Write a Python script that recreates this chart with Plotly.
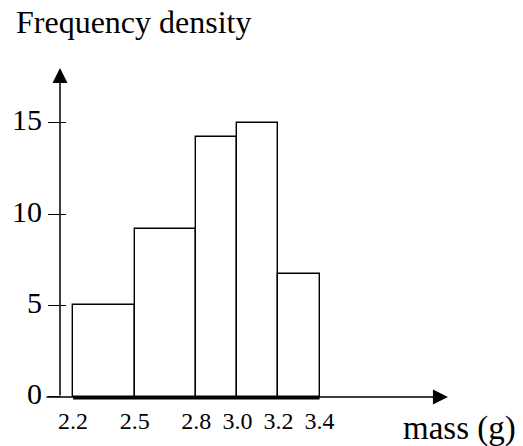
import plotly.graph_objects as go

# ---- data ----
class_edges = [2.2, 2.5, 2.8, 3.0, 3.2, 3.4]
freq_density = [5.0, 9.2, 14.2, 15.0, 6.7]
x_tick_labels = ["2.2", "2.5", "2.8", "3.0", "3.2", "3.4"]
y_tick_values = [0, 5, 10, 15]

mids = [(a + b) / 2 for a, b in zip(class_edges[:-1], class_edges[1:])]
widths = [b - a for a, b in zip(class_edges[:-1], class_edges[1:])]

W, H = 523, 446
FONT = "Liberation Serif"

# axis geometry (data units)
X_RANGE = [1.8442, 4.3905]
Y_RANGE = [-2.678, 21.694]
X_AXIS_START = 2.063
X_AXIS_TIP = 4.025
Y_AXIS_X = 2.1364
Y_AXIS_TIP = 17.98

fig = go.Figure()

fig.add_trace(go.Bar(
    x=mids, y=freq_density, width=widths,
    marker=dict(color="white", line=dict(color="black", width=1.4)),
    hoverinfo="skip", showlegend=False,
))

# thick baseline under the bars
fig.add_trace(go.Scatter(
    x=[class_edges[0], class_edges[-1]], y=[-0.05, -0.05], mode="lines",
    line=dict(color="black", width=3), hoverinfo="skip", showlegend=False,
))

annotations = [
    # x axis with arrow
    dict(x=X_AXIS_TIP, y=0, ax=X_AXIS_START, ay=0, xref="x", yref="y",
         axref="x", ayref="y", showarrow=True, arrowhead=2, arrowsize=2,
         arrowwidth=1.5, arrowcolor="black", text=""),
    # y axis with arrow
    dict(x=Y_AXIS_X, y=Y_AXIS_TIP, ax=Y_AXIS_X, ay=0, xref="x", yref="y",
         axref="x", ayref="y", showarrow=True, arrowhead=2, arrowsize=2,
         arrowwidth=1.5, arrowcolor="black", text=""),
    dict(text="Frequency density", x=14 / W, y=1 - 22 / H, xref="paper", yref="paper",
         xanchor="left", yanchor="middle", showarrow=False,
         font=dict(family=FONT, size=32, color="black")),
    dict(text="mass (g)", x=401 / W, y=1 - 428 / H, xref="paper", yref="paper",
         xanchor="left", yanchor="middle", showarrow=False,
         font=dict(family=FONT, size=33, color="black")),
]

fig.update_layout(
    width=W, height=H,
    margin=dict(l=0, r=0, t=0, b=0),
    paper_bgcolor="white", plot_bgcolor="white",
    bargap=0,
    annotations=annotations,
    xaxis=dict(
        range=X_RANGE, domain=[0, 1], anchor="free", position=(H - 397) / H,
        showgrid=False, zeroline=False, showline=False,
        tickmode="array", tickvals=class_edges, ticktext=x_tick_labels,
        ticks="outside", ticklen=2, tickcolor="rgba(0,0,0,0)",
        tickfont=dict(family=FONT, size=24, color="black"),
    ),
    yaxis=dict(
        range=Y_RANGE, domain=[0, 1], anchor="free", position=60 / W,
        showgrid=False, zeroline=False, showline=False,
        tickmode="array", tickvals=y_tick_values,
        ticks="outside", ticklen=12, tickwidth=1.4, tickcolor="black",
        ticklabelshift=-3,
        tickfont=dict(family=FONT, size=30, color="black"),
    ),
    yaxis2=dict(
        range=Y_RANGE, domain=[0, 1], anchor="free", position=60 / W,
        overlaying="y", side="left",
        showgrid=False, zeroline=False, showline=False, showticklabels=False,
        tickmode="array", tickvals=y_tick_values[1:],
        ticks="inside", ticklen=5, tickwidth=1.4, tickcolor="black",
    ),
)

# invisible trace to activate the secondary tick axis
fig.add_trace(go.Scatter(x=[mids[0]], y=[freq_density[0]], yaxis="y2", mode="markers",
                         marker=dict(opacity=0), hoverinfo="skip", showlegend=False))

fig.write_html("out.html", config={"displayModeBar": False},
               post_script="document.body.style.margin='0';document.body.style.overflow='hidden';")
